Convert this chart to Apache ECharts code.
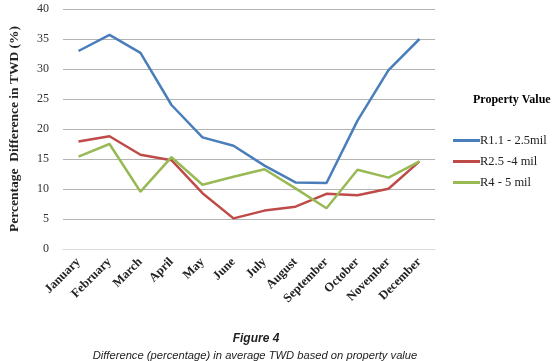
<!DOCTYPE html>
<html><head><meta charset="utf-8">
<script src="https://cdn.jsdelivr.net/npm/echarts@6/dist/echarts.min.js"></script>
<style>html,body{margin:0;padding:0;background:#fff}#c{width:554px;height:361px}</style>
</head><body><div id="c"></div>
<script>
const months = ['January','February','March','April','May','June','July','August','September','October','November','December'];
const r1 = [33.0, 35.7, 32.7, 24.0, 18.6, 17.2, 13.9, 11.1, 11.0, 21.4, 29.8, 35.0];
const r2 = [17.9, 18.8, 15.7, 14.8, 9.3, 5.1, 6.4, 7.05, 9.2, 8.95, 10.05, 14.6];
const r3 = [15.4, 17.5, 9.55, 15.3, 10.7, 12.05, 13.3, 10.1, 6.8, 13.2, 11.9, 14.6];
const seriesNames = ['R1.1 - 2.5mil', 'R2.5 -4 mil', 'R4 - 5 mil'];
const colors = ['#4a7ebb', '#be4b48', '#98b954'];
const chart = echarts.init(document.getElementById('c'));
const serif = '"Liberation Serif", "Times New Roman", serif';
chart.setOption({
  animation: false,
  grid: {left: 60, right: 119, top: 9, bottom: 112},
  title: [
    {text: 'Property Value', left: 468, top: 89, textStyle: {fontFamily: serif, fontWeight: 'bold', fontSize: 12, color: '#000'}},
    {text: 'Figure 4', left: 251, top: 328, textAlign: 'center', textStyle: {fontFamily: '"Liberation Sans", sans-serif', fontStyle: 'italic', fontWeight: 'bold', fontSize: 12, color: '#222'}},
    {text: 'Difference (percentage) in average TWD based on property value', left: 250, top: 345, textAlign: 'center', textStyle: {fontFamily: '"Liberation Sans", sans-serif', fontStyle: 'italic', fontWeight: 'normal', fontSize: 11.2, color: '#222'}}
  ],
  legend: {
    orient: 'vertical', left: 448, top: 129, itemGap: 8, itemWidth: 27, itemHeight: 3,
    icon: 'rect',
    textStyle: {fontFamily: serif, fontSize: 12.5, color: '#222', padding: [0,0,0,-5]},
    data: seriesNames
  },
  xAxis: {
    type: 'category', data: months, boundaryGap: true,
    axisLine: {lineStyle: {color: '#d9d9d9'}}, axisTick: {show: false},
    axisLabel: {rotate: 45, interval: 0, fontFamily: serif, fontWeight: 'bold', fontSize: 12.5, color: '#222', margin: 11}
  },
  yAxis: {
    type: 'value', min: 0, max: 40, interval: 5,
    name: 'Percentage  Difference in TWD (%)', nameLocation: 'middle', nameGap: 41,
    nameTextStyle: {fontFamily: serif, fontWeight: 'bold', fontSize: 13.5, color: '#222'},
    axisLine: {show: false}, axisTick: {show: false},
    axisLabel: {fontFamily: serif, fontSize: 12, color: '#333', margin: 14},
    splitLine: {lineStyle: {color: '#b3b3b3', width: 1}}
  },
  series: [r1, r2, r3].map((d, i) => ({
    name: seriesNames[i], type: 'line', data: d, symbol: 'none',
    lineStyle: {color: colors[i], width: 2.5}, itemStyle: {color: colors[i]}
  }))
});
</script></body></html>
